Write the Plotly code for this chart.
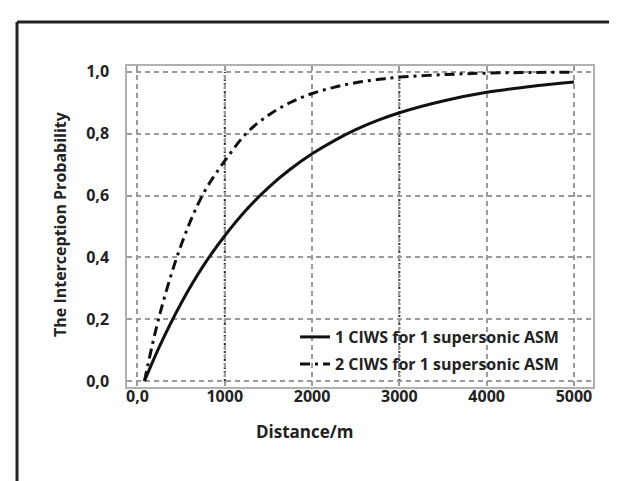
import plotly.graph_objects as go

# ---- data ----
distance_m = [80, 250, 500, 750, 1000, 1250, 1500, 1750, 2000, 2250, 2500,
              2750, 3000, 3500, 4000, 4500, 5000]
p_one_ciws = [0.0, 0.111, 0.252, 0.371, 0.470, 0.555, 0.626, 0.685, 0.735, 0.777,
              0.813, 0.843, 0.868, 0.906, 0.934, 0.953, 0.967]
p_two_ciws = [0.0, 0.210, 0.440, 0.604, 0.712, 0.802, 0.860, 0.901, 0.930, 0.950,
              0.965, 0.975, 0.983, 0.991, 0.996, 0.998, 0.999]

series_names = ["1 CIWS for 1 supersonic ASM", "2 CIWS for 1 supersonic ASM"]
x_tick_vals = [0, 1000, 2000, 3000, 4000, 5000]
x_tick_text = ["0,0", "1000", "2000", "3000", "4000", "5000"]
y_tick_vals = [0, 0.2, 0.4, 0.6, 0.8, 1.0]
dotted_grid_x = [1000, 3000]

FONT = "Open Sans"
INK = "#222222"

fig = go.Figure()
fig.add_trace(go.Scatter(
    x=distance_m, y=p_one_ciws, mode="lines", name=series_names[0],
    line=dict(color="#111111", width=3, shape="spline"), legend="legend"))
fig.add_trace(go.Scatter(
    x=distance_m, y=p_two_ciws, mode="lines", name=series_names[1],
    line=dict(color="#111111", width=3, dash="10px,5px,3px,5px", shape="spline"),
    legend="legend2"))

# dotted dark vertical grid lines
for xv in dotted_grid_x:
    fig.add_shape(type="line", xref="x", yref="y", x0=xv, x1=xv, y0=0, y1=1,
                  line=dict(color="#333333", width=2, dash="2px,2px"), layer="below")

# outer frame (top and left edges)
fig.add_shape(type="line", xref="paper", yref="paper", x0=-0.236, x1=1.2,
              y0=1.137, y1=1.137, line=dict(color=INK, width=3))
fig.add_shape(type="line", xref="paper", yref="paper", x0=-0.236, x1=-0.236,
              y0=1.137, y1=-0.45, line=dict(color=INK, width=3))

# axis titles
fig.add_annotation(text="Distance/m", xref="paper", yref="paper",
                   x=(297 - 119) / 466, y=(379 - 424) / 321, showarrow=False,
                   xanchor="center", yanchor="middle",
                   font=dict(family=FONT, size=17, color=INK, weight="bold"))
fig.add_annotation(text="The Interception Probability", xref="paper", yref="paper",
                   x=(52 - 119) / 466, y=(379 - 216) / 321, showarrow=False, textangle=-90,
                   xanchor="center", yanchor="middle",
                   font=dict(family=FONT, size=16, color=INK, weight="bold"))

grid = dict(showgrid=True, gridcolor="#9a9a9a", gridwidth=1.5, griddash="5px,4px")
tickfont = dict(family=FONT, size=16, color=INK, weight="bold")
legfont = dict(family=FONT, size=16, color=INK, weight="bold")
fig.update_layout(
    width=617, height=481,
    margin=dict(l=119, r=32, t=58, b=102),
    paper_bgcolor="white", plot_bgcolor="white",
    separators=",.",
    font=dict(family=FONT, size=14, color=INK),
    xaxis=dict(range=[-120, 5218], tickvals=x_tick_vals, ticktext=x_tick_text,
               showline=True, mirror=True, linecolor="#b0b0b0", linewidth=1.5,
               zeroline=False, ticks="", ticklabelstandoff=-6,
               tickfont=tickfont, **grid),
    yaxis=dict(range=[-0.019, 1.019], tickvals=y_tick_vals, tickformat=".1f",
               showline=True, mirror=True, linecolor="#b0b0b0", linewidth=1.5,
               zeroline=False, ticks="", ticklabelstandoff=13,
               tickfont=tickfont, **grid),
    legend=dict(x=(287 - 119) / 466, y=(379 - 329) / 321, xanchor="left", yanchor="middle",
                bgcolor="rgba(255,255,255,0)", borderwidth=0, font=legfont),
    legend2=dict(x=(287 - 119) / 466, y=(379 - 356) / 321, xanchor="left", yanchor="middle",
                 bgcolor="rgba(255,255,255,0)", borderwidth=0, font=legfont),
    showlegend=True,
)

fig.write_html("out.html")
